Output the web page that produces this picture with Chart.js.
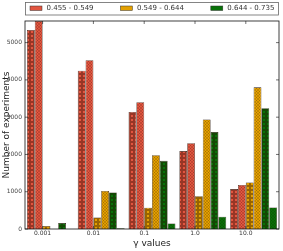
<!DOCTYPE html>
<html>
<head>
<meta charset="utf-8">
<script src="https://cdn.jsdelivr.net/npm/chart.js@4.4.1/dist/chart.umd.min.js"></script>
<style>
  html, body { margin: 0; padding: 0; background: #fff; }
</style>
</head>
<body>
<canvas id="chart" width="283" height="251"></canvas>
<script>
// categories on the x axis
const gammaValues = ['0.001', '0.01', '0.1', '1.0', '10.0'];
// legend texts, one per colour
const rangeLabels = ['0.455 - 0.549', '0.549 - 0.644', '0.644 - 0.735'];

// two bars per colour in every group
const redA    = [5340, 4245, 3140, 2090, 1070];
const redB    = [5580, 4530, 3400, 2300, 1180];
const orangeA = [80, 310, 570, 880, 1250];
const orangeB = [0, 1020, 1980, 2940, 3800];
const greenA  = [160, 980, 1830, 2600, 3240];
const greenB  = [0, 20, 150, 330, 580];

// y tick labels
const yTicks = [0, 1000, 2000, 3000, 4000, 5000];
const yMax = 5580;

let red = '#e2553f',
    orange = '#e3a000',
    green = '#087208';

Chart.defaults.font.family = 'DejaVu Sans';

// matplotlib like hatches
const hatch = (face, kind) => {
    let tile = document.createElement('canvas'),
        g = tile.getContext('2d');
    if (kind === 'o') {
        tile.width = tile.height = 4;
        g.fillStyle = face;
        g.fillRect(0, 0, 4, 4);
        g.strokeStyle = 'rgba(40,10,0,0.8)';
        g.lineWidth = 0.8;
        g.beginPath();
        g.arc(2, 2, 1.3, 0, Math.PI * 2);
        g.stroke();
    } else {
        tile.width = tile.height = 3;
        g.fillStyle = face;
        g.fillRect(0, 0, 3, 3);
        g.strokeStyle = 'rgba(40,10,0,0.35)';
        g.lineWidth = 0.5;
        g.beginPath();
        g.moveTo(0, 0); g.lineTo(3, 3);
        g.moveTo(3, 0); g.lineTo(0, 3);
        g.stroke();
    }
    return g.createPattern(tile, 'repeat');
}

const series = [redA, redB, orangeA, orangeB, greenA, greenB],
      faces = [red, red, orange, orange, green, green];

let datasets = series.map((values, i) => ({
    label: rangeLabels[Math.floor(i / 2)],
    data: values,
    backgroundColor: hatch(faces[i], i % 2 === 0 ? 'o' : 'x'),
    borderColor: '#2a1a10',
    borderWidth: 0.6,
    barPercentage: 1,
    categoryPercentage: 0.922,
}));

// box round the plot + inward ticks
const framePlugin = {
    id: 'frame',
    afterDatasetsDraw(chart) {
        let ctx = chart.ctx, a = chart.chartArea,
            x = chart.scales.x, y = chart.scales.y;
        ctx.save();
        ctx.strokeStyle = '#111';
        ctx.lineWidth = 0.8;
        ctx.strokeRect(a.left, a.top, a.right - a.left, a.bottom - a.top);
        ctx.lineWidth = 0.6;
        ctx.beginPath();
        y.ticks.forEach(t => {
            let py = y.getPixelForValue(t.value);
            ctx.moveTo(a.left, py); ctx.lineTo(a.left + 3, py);
            ctx.moveTo(a.right, py); ctx.lineTo(a.right - 3, py);
        });
        x.ticks.forEach((t, i) => {
            let px = x.getPixelForTick(i) + x.options.ticks.labelOffset;
            ctx.moveTo(px, a.top); ctx.lineTo(px, a.top + 3);
            ctx.moveTo(px, a.bottom); ctx.lineTo(px, a.bottom - 3);
        });
        ctx.stroke();
        ctx.restore();
    }
};

// legend in a box over the plot
const boxLegend = {
    id: 'boxLegend',
    afterDraw(chart) {
        let ctx = chart.ctx, a = chart.chartArea;
        ctx.save();
        ctx.strokeStyle = '#666';
        ctx.lineWidth = 0.8;
        ctx.strokeRect(a.left + 0.5, 2.5, a.right - a.left - 1, 12.5);
        let colours = [red, orange, green];
        ctx.font = '7px "DejaVu Sans"';
        ctx.textBaseline = 'middle';
        rangeLabels.forEach((txt, i) => {
            let sx = a.left + 5 + i * 90.4;
            ctx.fillStyle = colours[i];
            ctx.fillRect(sx, 6, 12, 4.5);
            ctx.strokeStyle = '#333';
            ctx.lineWidth = 0.5;
            ctx.strokeRect(sx, 6, 12, 4.5);
            ctx.fillStyle = '#333';
            ctx.fillText(txt, sx + 16.5, 8.5);
        });
        ctx.restore();
    }
};

new Chart(document.getElementById('chart').getContext('2d'), {
    type: 'bar',
    data: { labels: gammaValues, datasets: datasets },
    options: {
        responsive: false,
        animation: false,
        devicePixelRatio: 1,
        layout: { padding: { top: 21, right: 4, left: 0, bottom: 0 } },
        plugins: { legend: { display: false }, tooltip: { enabled: false } },
        scales: {
            x: {
                grid: { display: false, drawTicks: false },
                border: { display: false },
                ticks: { font: { size: 6 }, color: '#333', labelOffset: -7.8, padding: 1, maxRotation: 0, autoSkip: false },
                title: { display: true, text: 'γ values', font: { size: 9 }, color: '#222', padding: { top: 0, bottom: 1.6 } },
                afterFit: s => { s.height = 22; }
            },
            y: {
                min: 0,
                max: yMax,
                grid: { display: false, drawTicks: false },
                border: { display: false },
                afterBuildTicks: s => { s.ticks = yTicks.map(v => ({ value: v })); },
                ticks: { font: { size: 6 }, color: '#444', padding: 3, callback: v => String(v) },
                title: { display: true, text: 'Number of experiments', font: { size: 9 }, color: '#222', padding: { top: 1, bottom: 0 } },
                afterFit: s => { s.width = 25; }
            }
        }
    },
    plugins: [framePlugin, boxLegend]
});
</script>
</body>
</html>
